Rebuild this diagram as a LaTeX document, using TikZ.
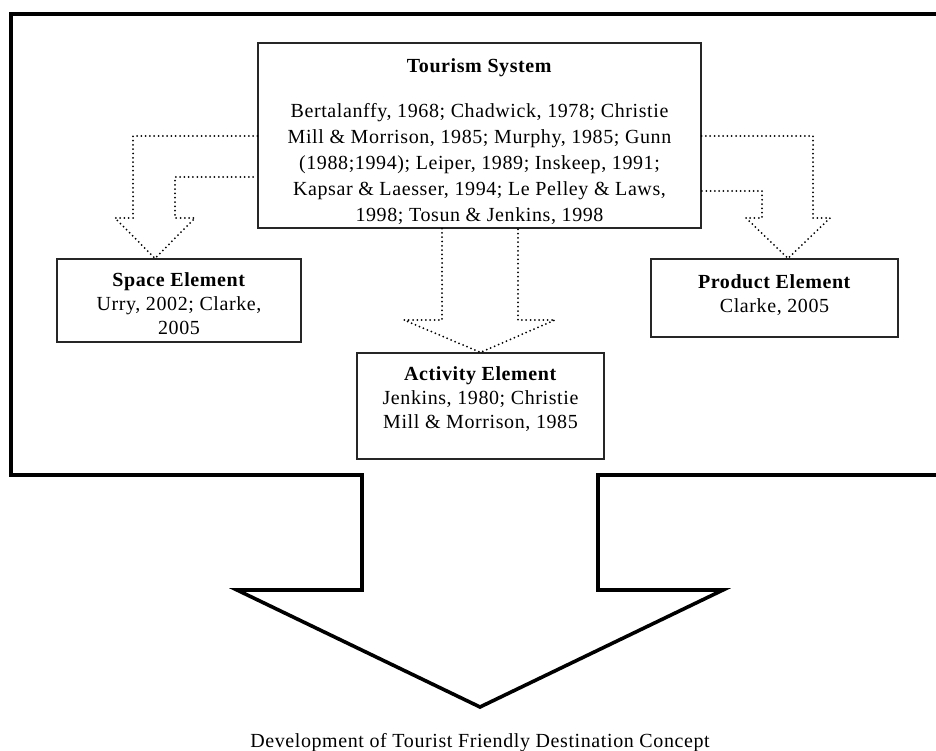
\documentclass[tikz,border=0pt]{standalone}
\usepackage{fontspec}
\setmainfont{Liberation Serif}[LetterSpace=3]
\usepackage{tikz}

\begin{document}
\begin{tikzpicture}[
    x=1pt, y=-1pt,
    every node/.style={font=\fontsize{20}{24}\selectfont},
    box/.style={rectangle, draw=black!85, line width=1.2pt, inner sep=0pt, align=center},
    dotarrow/.style={draw=black, line width=2pt, line cap=round, dash pattern=on 0pt off 4.3pt},
    frame/.style={line width=3.6pt, line join=miter}
]
\useasboundingbox (0,0) rectangle (936,751);
\clip (0,0) rectangle (936,751);

% outer frame with the big arrow
\draw[frame] (950,14) -- (11,14) -- (11,475) -- (362,475) -- (362,590) -- (237,590) -- (480,707)
    -- (723,590) -- (598,590) -- (598,475) -- (950,475);

\node[box, minimum width=443, minimum height=185] (sys) at (479.5,135.5) {\rule{0pt}{27pt}%
    \textbf{Tourism System}\\[21pt]
    Bertalanffy, 1968; Chadwick, 1978; Christie\\[2pt]
    Mill \& Morrison, 1985; Murphy, 1985; Gunn\\[2pt]
    (1988;1994); Leiper, 1989; Inskeep, 1991;\\[2pt]
    Kapsar \& Laesser, 1994; Le Pelley \& Laws,\\[2pt]
    1998; Tosun \& Jenkins, 1998};
\node[box, minimum width=244, minimum height=83] (space) at (179,300.5) {\rule{0pt}{21pt}%
    \textbf{Space Element}\\ Urry, 2002; Clarke,\\ 2005};
\node[box, minimum width=247, minimum height=106] (activity) at (480.5,406) {\textbf{Activity Element}\\
    Jenkins, 1980; Christie\\ Mill \& Morrison, 1985\\[-7pt] \mbox{}};
\node[box, minimum width=247, minimum height=78] (product) at (774.5,298) {\textbf{Product Element}\\
    Clarke, 2005\\[-16pt] \mbox{}};
\node (concept) at (480,743) {Development of Tourist Friendly Destination Concept};

% dotted block arrows
\draw[dotarrow] (sys.west |- 0,136) -- (133,136) -- (133,218) -- (115,218) -- (155,0 |- space.north)
    -- (195,218) -- (175,218) -- (175,177) -- (sys.west |- 0,177);
\draw[dotarrow] (sys.south -| 442,0) -- (442,320) -- (404,320) -- (activity.north)
    -- (555,320) -- (518,320) -- (sys.south -| 518,0);
\draw[dotarrow] (sys.east |- 0,136) -- (813,136) -- (813,218) -- (830,218) -- (788,0 |- product.north)
    -- (746,218) -- (762,218) -- (762,191) -- (sys.east |- 0,191);
\end{tikzpicture}
\end{document}
